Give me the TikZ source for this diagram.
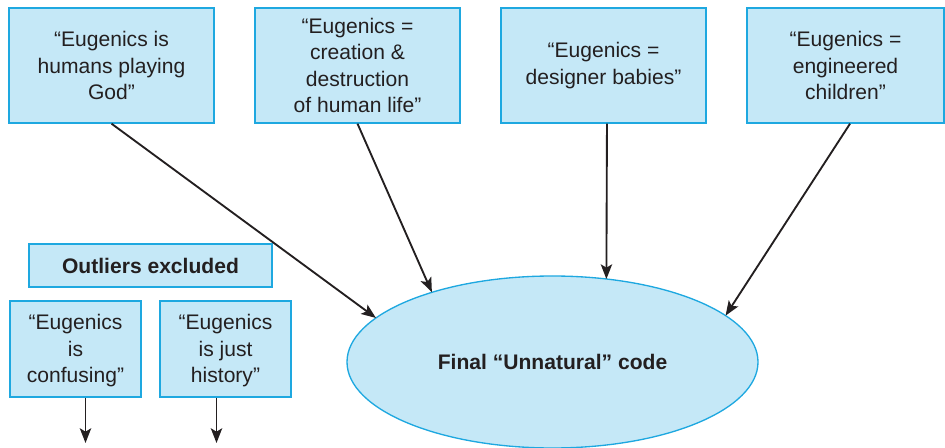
\documentclass[tikz,border=0pt]{standalone}
\usepackage{fontspec}
\setmainfont{Liberation Sans}
\usetikzlibrary{arrows.meta,shapes.geometric}
\definecolor{boxfill}{HTML}{C5E8F7}
\definecolor{boxline}{HTML}{1EA8E0}
\definecolor{ink}{HTML}{231F20}
\begin{document}
\begin{tikzpicture}[x=0.75pt,y=-0.75pt,
  txt/.style={font=\fontsize{15.8}{19.9}\selectfont, text=ink, align=center},
  qbox/.style={txt, draw=boxline, line width=1pt, fill=boxfill, inner sep=0pt,
    minimum width=153.75pt, minimum height=86.25pt},
  sbox/.style={txt, draw=boxline, line width=1pt, fill=boxfill, inner sep=0pt,
    minimum width=98.25pt, minimum height=72pt},
  arr/.style={draw=ink, line width=1.4pt, -{Stealth[length=11pt,width=8.5pt,inset=2.5pt]}}]
\useasboundingbox (0,0) rectangle (945,448);
\node[qbox] (b1) at (111.5,65.5) {“Eugenics is\\humans playing\\God”};
\node[qbox] (b2) at (357.5,65.5) {“Eugenics =\\creation \&\\destruction\\of human life”};
\node[qbox] (b3) at (603.5,65.5) {“Eugenics =\\designer babies”};
\node[qbox, minimum width=147.75pt] (b4) at (845.5,65.5) {“Eugenics =\\engineered\\children”};
\node[txt, font=\fontsize{15.8}{19.9}\selectfont\bfseries, draw=boxline, line width=1pt, fill=boxfill,
  inner sep=0pt, minimum width=182.25pt, minimum height=32.25pt] (out) at (150.5,265.5) {Outliers excluded};
\node[sbox] (b5) at (75.5,349) {\rule{0pt}{14pt}“Eugenics\\is\\confusing”};
\node[sbox] (b6) at (225.5,349) {\rule{0pt}{14pt}“Eugenics\\is just\\history”};
\node[ellipse, draw=boxline, line width=1pt, fill=boxfill, inner sep=0pt, outer sep=0pt,
  minimum width=308.25pt, minimum height=129pt, txt, font=\fontsize{15.8}{19.9}\selectfont\bfseries] (fin) at (552.5,362) {Final “Unnatural” code};
\coordinate (e5) at (85.5,443);
\coordinate (e6) at (216.5,443);
\draw[arr] (b1.south) -- (fin.166);
\draw[arr] (b2.south) -- (fin.150.5);
\draw[arr] ([xshift=2.6pt]b3.south) -- (fin.57);
\draw[arr] ([xshift=3.4pt]b4.south) -- (fin.15.6);
\draw[arr] (b5.south -| e5) -- (e5);
\draw[arr] (b6.south -| e6) -- (e6);
\end{tikzpicture}
\end{document}
